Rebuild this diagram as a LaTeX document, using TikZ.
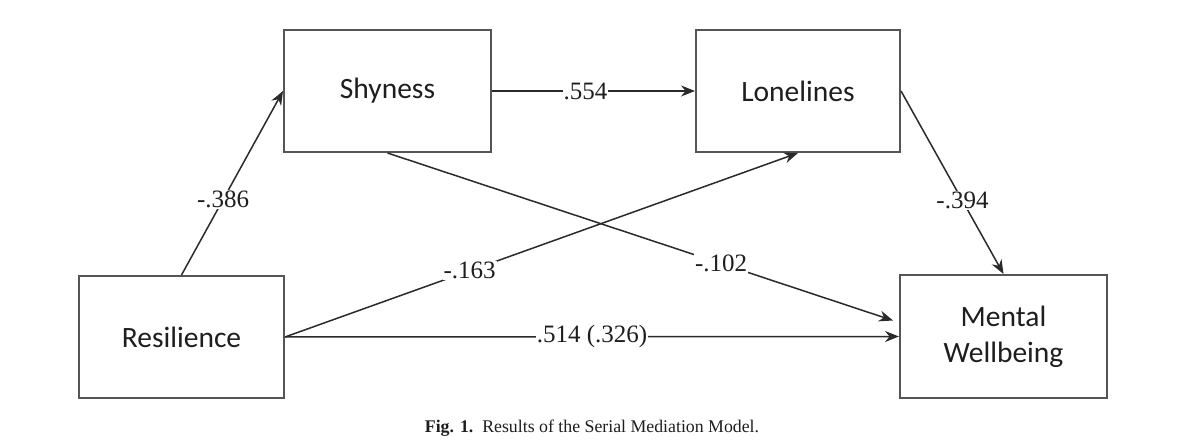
\documentclass[tikz,border=0pt]{standalone}
\usepackage{fontspec}
\setmainfont{Liberation Serif}
\newfontfamily\boxfont{Carlito}
\usetikzlibrary{arrows.meta}
\definecolor{boxline}{HTML}{555555}
\definecolor{arrline}{HTML}{2A2A2A}
\definecolor{txt}{HTML}{1E1E1E}
\begin{document}
\begin{tikzpicture}[x=1pt,y=-1pt,
  var/.style={draw=boxline,line width=2pt,fill=white,minimum width=205pt,minimum height=122pt,
    inner sep=0pt,align=center,text=txt,font=\boxfont\fontsize{29.5}{36}\selectfont},
  arr/.style={draw=arrline,line width=1.5pt,-{Stealth[length=14pt,width=11pt]}},
  lab/.style={fill=white,inner sep=1pt,text=txt,font=\fontsize{25}{27}\selectfont}]
\useasboundingbox (0,0) rectangle (1200,446);
\node[var,minimum width=207pt] (shy) at (387.5,91) {Shyness};
\node[var,minimum width=204pt] (lon) at (798,91) {Lonelines};
\node[var] (res) at (181.5,337) {Resilience};
\node[var,minimum width=207pt,minimum height=123pt] (mw) at (1003.5,336.5) {Mental\\Wellbeing};
\draw[arr] (res.north) -- node[lab,pos=0.41] {-.386} (shy.west);
\draw[arr] (shy.east) -- node[lab,pos=0.46] {.554} (lon.west);
\draw[arr] (res.east) -- node[lab,pos=0.36] {-.163} (lon.south);
\draw[arr] (shy.south) -- node[lab,pos=0.66] {-.102} ([xshift=-6pt,yshift=16pt]mw.west);
\draw[arr] (lon.east) -- node[lab,pos=0.6] {-.394} (mw.north);
\draw[arr] (res.east) -- node[lab,pos=0.5] {.514 (.326)} (mw.west);
\node[text=txt,font=\fontsize{17.8}{20}\selectfont] (cap) at (592,428) {\textbf{Fig. 1.}\enspace Results of the Serial Mediation Model.};
\end{tikzpicture}
\end{document}
